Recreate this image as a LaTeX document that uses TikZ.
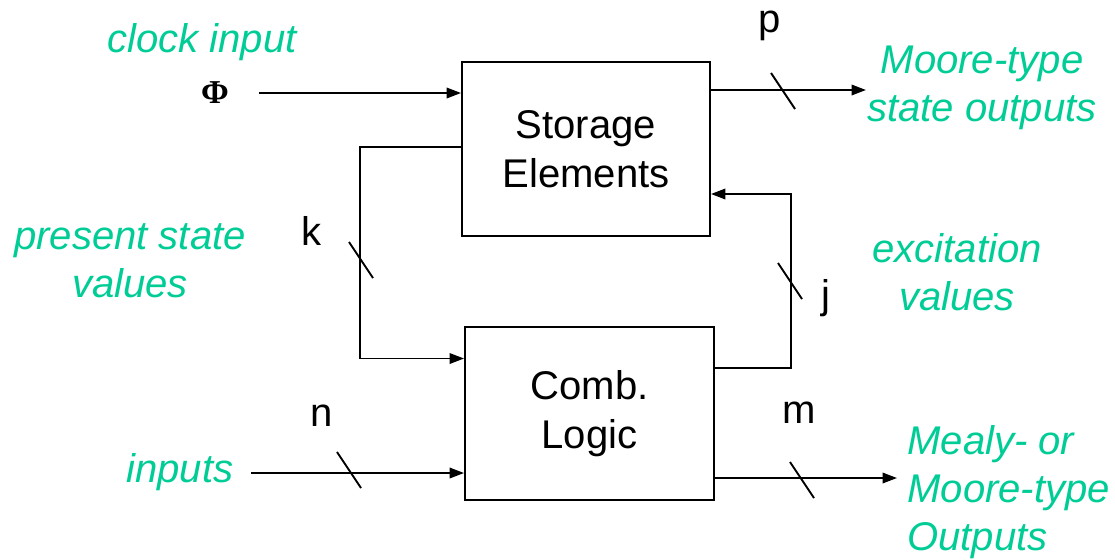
\documentclass[tikz,border=0pt]{standalone}
\usepackage{fontspec}
\setmainfont{Liberation Sans}
\newfontfamily\phifont{Liberation Serif}
\usepackage{xcolor}
\usepackage{tikz}
\usetikzlibrary{positioning, arrows.meta, calc}
\definecolor{LabelGreen}{RGB}{0,204,150}
\tikzset{
  blockbox/.style={draw=black, line width=1.1pt, minimum width=4.96cm, minimum height=3.48cm,
    inner sep=0pt, align=center, font=\fontsize{22.8}{27.8}\selectfont},
  wire/.style={line width=1.1pt},
  arr/.style={wire, -{Triangle[length=0.29cm, width=0.21cm]}},
  slashmark/.style={line width=1.1pt},
  greentxt/.style={text=LabelGreen, font=\fontsize{22.8}{27.5}\selectfont\itshape, align=center, inner sep=0pt},
  widthtxt/.style={font=\fontsize{22.8}{27.5}\selectfont, inner sep=0pt},
}

\begin{document}
\begin{tikzpicture}[x=0.02cm, y=-0.02cm]
  \useasboundingbox (0,0) rectangle (1115,559);

  % blocks
  \node[blockbox] (stor) at (586,149) {Storage\\Elements};
  \node[blockbox, minimum width=4.98cm, minimum height=3.46cm] (comb) at (589.5,413.5) {Comb.\\Logic};

  % labels
  \node[greentxt] (clklab) at (202,42) {clock input};
  \node[font=\phifont\bfseries\fontsize{19}{22}\selectfont, inner sep=0pt] (phi) at (215,93) {Φ};
  \node[greentxt] (mooreout) at (982,88) {Moore-type\\state outputs};
  \node[greentxt] (pslab) at (130,261) {present state\\values};
  \node[greentxt] (exlab) at (957,272) {excitation\\values};
  \node[greentxt] (inlab) at (180,472) {inputs};
  \node[greentxt, align=left, anchor=west] (mealyout) at (907,492) {Mealy- or\\Moore-type\\Outputs};

  \node[widthtxt] (plab) at (770,26) {p};
  \node[widthtxt] (klab) at (312,231) {k};
  \node[widthtxt] (jlab) at (826,298) {j};
  \node[widthtxt] (nlab) at (322,416) {n};
  \node[widthtxt] (mlab) at (799,413) {m};

  % free ends of wires
  \coordinate (clk) at (259,93);
  \coordinate (pout) at (866,90);
  \coordinate (inp) at (251,473);
  \coordinate (mout) at (897,478);

  % connectors
  \draw[arr] (clk) -- (clk -| stor.west);
  \draw[arr] (stor.east |- pout) -- (pout);
  \draw[arr] ([yshift=0.04cm]stor.west) -- ++(-101,0) |- ([yshift=1.1cm]comb.west);
  \draw[arr] ([yshift=0.91cm]comb.east) -- ++(76,0) |- ([yshift=-0.9cm]stor.east);
  \draw[arr] (inp) -- (inp -| comb.west);
  \draw[arr] (comb.east |- mout) -- (mout);

  % bus width marks
  \coordinate (pw) at (783,91);
  \coordinate (kw) at (361,260);
  \coordinate (jw) at (790,281);
  \coordinate (nw) at (349,470);
  \coordinate (mw) at (802,480);
  \foreach \s in {pw,kw,jw,nw,mw}
    \draw[slashmark] ([shift={(-12,-18)}]\s) -- ([shift={(12,18)}]\s);
\end{tikzpicture}
\end{document}
